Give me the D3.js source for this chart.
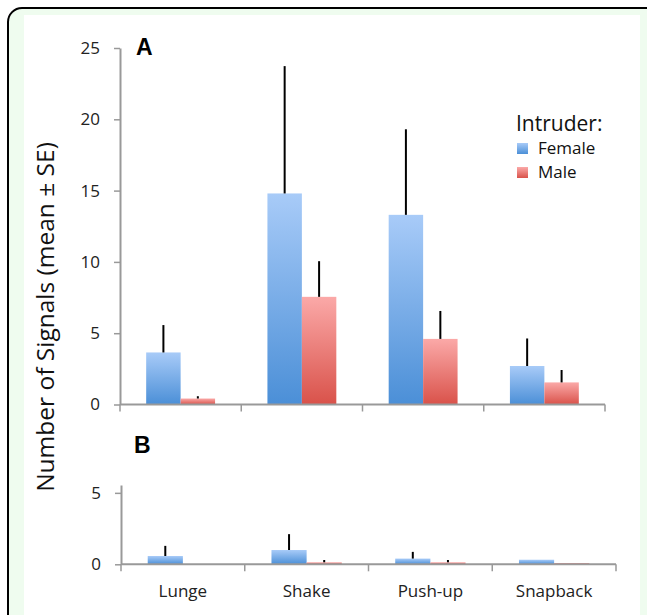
<!DOCTYPE html>
<html>
<head>
<meta charset="utf-8">
<script src="https://cdn.jsdelivr.net/npm/d3@7"></script>
<style>
  body { margin: 0; background: #fff; }
  svg { display: block; font-family: "Open Sans", sans-serif; }
</style>
</head>
<body>
<svg id="chart" width="647" height="615"></svg>
<script>
// behaviours on the x axis
const categories = ['Lunge', 'Shake', 'Push-up', 'Snapback'];
const sexes = ['Female', 'Male'];

// panel A: means and SE
const femaleA = [3.65, 14.8, 13.3, 2.7];
const femaleASE = [1.92, 8.93, 6.0, 1.93];
const maleA = [0.42, 7.55, 4.6, 1.55];
const maleASE = [0.16, 2.5, 1.96, 0.87];

// panel B: means and SE
const femaleB = [0.58, 1.0, 0.4, 0.32];
const femaleBSE = [0.71, 1.11, 0.47, 0];
const maleB = [0, 0.14, 0.14, 0.09];
const maleBSE = [0, 0.16, 0.16, 0];

const ticksA = [0, 5, 10, 15, 20, 25];
const ticksB = [0, 5];

function rows(f, fse, m, mse) {
  let out = [];
  categories.forEach(function(c, i) {
    out.push({cat: c, sex: 'Female', v: f[i], se: fse[i]});
    out.push({cat: c, sex: 'Male', v: m[i], se: mse[i]});
  });
  return out;
}

const svg = d3.select('#chart');

// frame
svg.append('rect')
    .attr('x', 8).attr('y', 8)
    .attr('width', 652).attr('height', 630)
    .attr('rx', 14)
    .attr('fill', '#effcef')
    .attr('stroke', '#000')
    .attr('stroke-width', 2);
svg.append('rect')
    .attr('x', 24).attr('y', 15)
    .attr('width', 616).attr('height', 620)
    .attr('fill', '#fff');

const defs = svg.append('defs');
const grads = {
  Female: ['#a8cbf8', '#4b8fd7'],
  Male: ['#fba9a8', '#d9524a'],
};
Object.keys(grads).forEach(function(k) {
  let g = defs.append('linearGradient')
      .attr('id', 'grad-' + k)
      .attr('x1', 0).attr('y1', 0).attr('x2', 0).attr('y2', 1);
  g.append('stop').attr('offset', '0%').attr('stop-color', grads[k][0]);
  g.append('stop').attr('offset', '100%').attr('stop-color', grads[k][1]);
});

/**
* draw one panel.
*/
function panel(data, opts) {
  let x = d3.scaleBand().domain(categories).range(opts.xr);
  let xs = d3.scaleBand().domain(sexes)
      .range([0, x.bandwidth()])
      .paddingOuter(0.76);
  let y = d3.scaleLinear().domain(opts.yd).range(opts.yr);

  let g = svg.append('g');

  // bars
  g.selectAll('rect.bar').data(data).enter()
    .append('rect')
      .attr('class', 'bar')
      .attr('x', function(d) {
        return x(d.cat) + xs(d.sex);
      })
      .attr('y', function(d) {
        return y(d.v);
      })
      .attr('width', xs.bandwidth())
      .attr('height', function(d) {
        return y(0) - y(d.v);
      })
      .attr('fill', function(d) {
        return 'url(#grad-' + d.sex + ')';
      });

  // error bars, upward only
  g.selectAll('line.err').data(data.filter(function(d) {
    return d.se > 0;
  })).enter()
    .append('line')
      .attr('class', 'err')
      .attr('x1', function(d) {
        return x(d.cat) + xs(d.sex) + xs.bandwidth()/2;
      })
      .attr('x2', function(d) {
        return x(d.cat) + xs(d.sex) + xs.bandwidth()/2;
      })
      .attr('y1', function(d) {
        return y(d.v);
      })
      .attr('y2', function(d) {
        return y(d.v + d.se);
      })
      .attr('stroke', '#000')
      .attr('stroke-width', 2);

  // y axis
  let ya = g.append('g')
      .attr('transform', 'translate(' + opts.xr[0] + ',0)')
      .call(d3.axisLeft(y).tickValues(opts.ticks)
        .tickFormat(d3.format('d'))
        .tickSize(6).tickSizeOuter(0).tickPadding(14));
  ya.select('.domain').attr('stroke', '#999').attr('stroke-width', 2);
  ya.selectAll('.tick line').attr('stroke', '#999').attr('stroke-width', 1.5);
  ya.selectAll('.tick text')
      .attr('font-size', 17).attr('fill', '#222')
      .attr('font-family', '"Open Sans", sans-serif');

  // x axis line and boundary ticks
  let bounds = categories.map(function(c) {
    return x(c);
  }).concat([opts.xr[1]]);
  g.append('line')
      .attr('x1', opts.xr[0]).attr('x2', opts.xr[1])
      .attr('y1', y(0)).attr('y2', y(0))
      .attr('stroke', '#999').attr('stroke-width', 2);
  g.selectAll('line.xt').data(bounds).enter()
    .append('line')
      .attr('class', 'xt')
      .attr('x1', function(d) {
        return d;
      })
      .attr('x2', function(d) {
        return d;
      })
      .attr('y1', y(0)).attr('y2', y(0) + 7)
      .attr('stroke', '#999').attr('stroke-width', 1.5);

  if (opts.labels) {
    g.selectAll('text.cat').data(categories).enter()
      .append('text')
        .attr('class', 'cat')
        .attr('x', function(d) {
          return x(d) + x.bandwidth()/2;
        })
        .attr('y', y(0) + 33)
        .attr('text-anchor', 'middle')
        .attr('font-size', 17)
        .attr('fill', '#222')
        .text(function(d) {
          return d;
        });
  }

  g.append('text')
      .attr('x', opts.letter[0]).attr('y', opts.letter[1])
      .attr('font-family', '"Liberation Sans", Arial, sans-serif')
      .attr('font-weight', 'bold')
      .attr('font-size', 23)
      .text(opts.name);
}

panel(rows(femaleA, femaleASE, maleA, maleASE), {
  name: 'A', letter: [136, 55],
  xr: [120, 605], yd: [0, 25], yr: [404.5, 48], ticks: ticksA,
  labels: false,
});
panel(rows(femaleB, femaleBSE, maleB, maleBSE), {
  name: 'B', letter: [134, 453],
  xr: [121, 616], yd: [0, 5.55], yr: [564.3, 485], ticks: ticksB,
  labels: true,
});

// y title
svg.append('text')
    .attr('transform', 'translate(54,317) rotate(-90)')
    .attr('text-anchor', 'middle')
    .attr('font-size', 24.5)
    .attr('fill', '#111')
    .text('Number of Signals (mean \u00b1 SE)');

// legend
let legend = svg.append('g').attr('transform', 'translate(516,0)');
legend.append('text')
    .attr('x', 0).attr('y', 131)
    .attr('font-size', 21).attr('fill', '#111')
    .text('Intruder:');
let li = legend.selectAll('g.item').data(sexes).enter()
  .append('g')
    .attr('class', 'item')
    .attr('transform', function(d, i) {
      return 'translate(0,' + (143 + i*24) + ')';
    });
li.append('rect')
    .attr('x', 1).attr('width', 11).attr('height', 11)
    .attr('fill', function(d) {
      return 'url(#grad-' + d + ')';
    });
li.append('text')
    .attr('x', 22).attr('y', 11)
    .attr('font-size', 17).attr('fill', '#111')
    .text(function(d) {
      return d;
    });
</script>
</body>
</html>
